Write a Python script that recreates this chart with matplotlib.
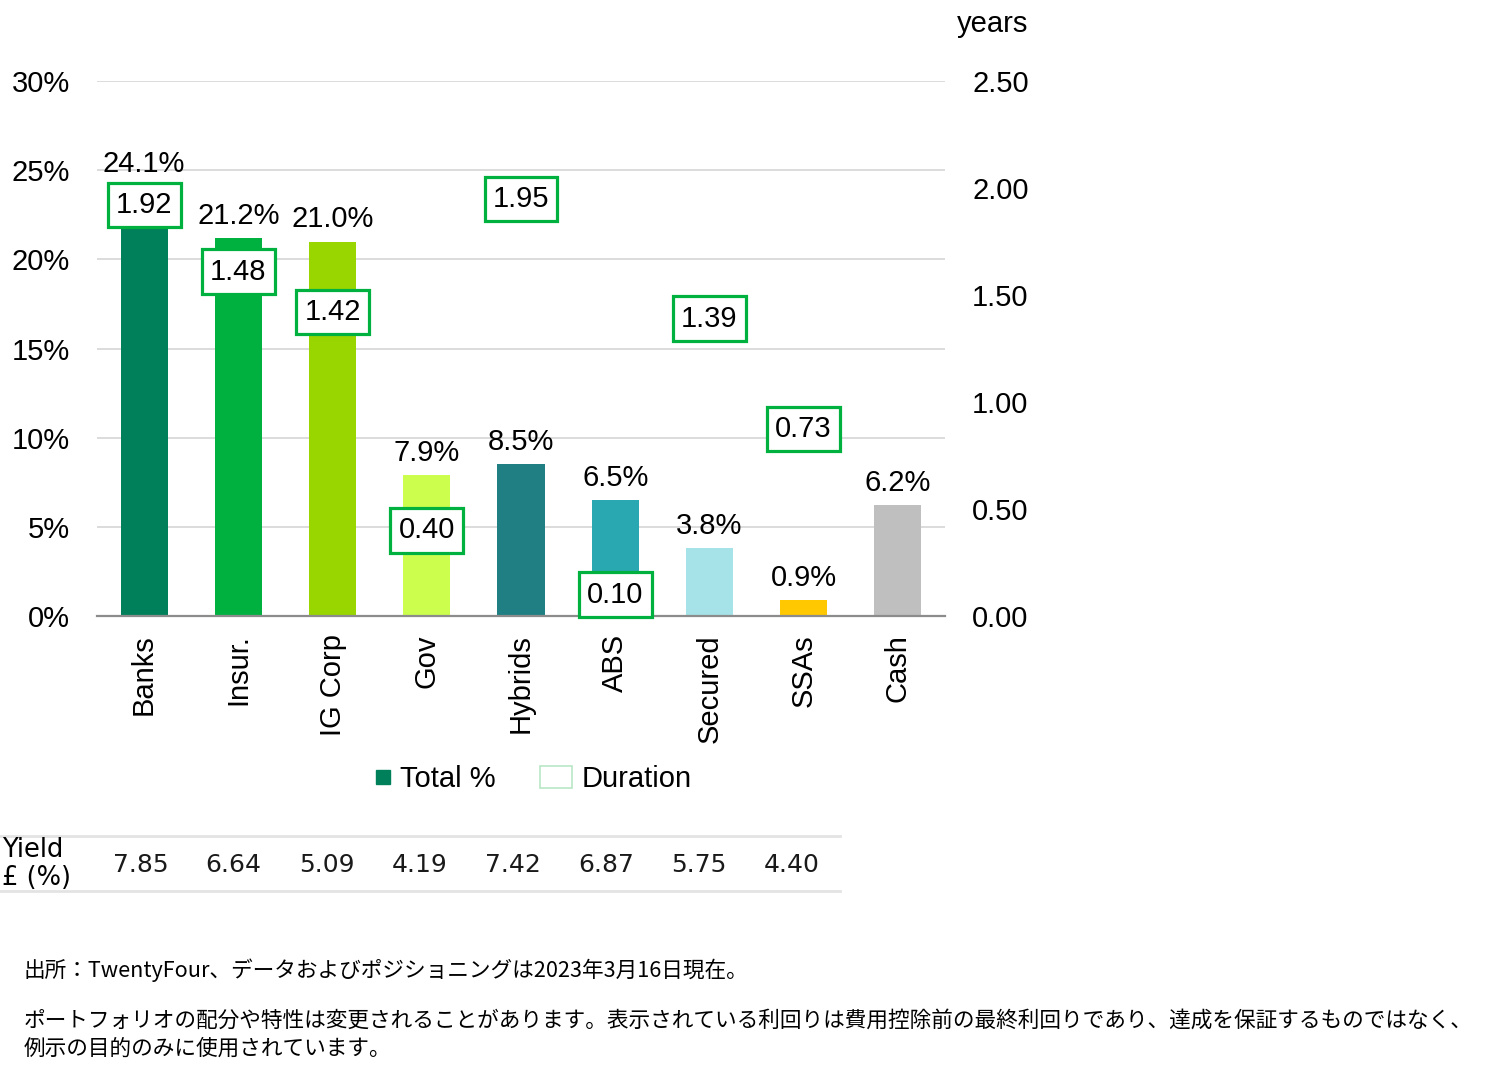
import matplotlib
matplotlib.use("Agg")
import matplotlib.pyplot as plt
import numpy as np
from matplotlib.patches import Patch, Rectangle
from matplotlib.legend_handler import HandlerPatch
from matplotlib.lines import Line2D
from matplotlib.transforms import blended_transform_factory

plt.rcParams['font.family'] = ['Liberation Sans', 'Noto Sans CJK JP', 'DejaVu Sans']

categories = ["Banks", "Insur.", "IG Corp", "Gov", "Hybrids", "ABS", "Secured", "SSAs", "Cash"]
total_pct = [24.1, 21.2, 21.0, 7.9, 8.5, 6.5, 3.8, 0.9, 6.2]
duration = [1.92, 1.48, 1.42, 0.40, 1.95, 0.10, 1.39, 0.73, np.nan]
yields = ["7.85", "6.64", "5.09", "4.19", "7.42", "6.87", "5.75", "4.40"]
bar_colors = ["#00805a", "#00b140", "#99d600", "#ccff4d", "#207f82", "#29a8b1", "#a5e3e8", "#ffc800", "#bfbfbf"]
left_ticks = [0, 5, 10, 15, 20, 25, 30]
right_ticks = [0.0, 0.5, 1.0, 1.5, 2.0, 2.5]
# label offsets (points) for duration boxes that were nudged in the original
dur_offsets = [0, 20, 0, 0, 0, 0, 0, 22, 0]

FS = 21
W, H = 1500, 1079
fig = plt.figure(figsize=(W / 100, H / 100), dpi=100)
ax = fig.add_axes([97 / W, 1 - 616 / H, (945 - 97) / W, (616 - 81) / H])
ax2 = ax.twinx()

x = np.arange(len(categories))
ax.bar(x, total_pct, width=0.5, color=bar_colors, zorder=2)
ax.set_xlim(-0.5, len(categories) - 0.5)
ax.set_ylim(0, 30)
ax.set_yticks(left_ticks)
ax.set_yticklabels([f"{t}%" for t in left_ticks])
ax.grid(axis='y', color='#d9d9d9', lw=1.3, zorder=0)
ax.set_axisbelow(True)
ax.set_xticks(x)
ax.set_xticklabels(categories, rotation=90, fontsize=FS)
ax.tick_params(axis='x', length=0, pad=13)
ax.tick_params(axis='y', length=0, pad=19.5, labelsize=FS)
for s in ['top', 'right', 'left']:
    ax.spines[s].set_visible(False)
ax.spines['bottom'].set_color('#8c8c8c')
ax.spines['bottom'].set_linewidth(1.6)
ax.spines['bottom'].set_zorder(3)

for xi, v in zip(x, total_pct):
    ax.annotate(f"{v:.1f}%", (xi, v), xytext=(0, 6), textcoords='offset points',
                ha='center', va='bottom', fontsize=FS, zorder=4)

ax2.set_ylim(0, 2.5)
ax2.set_yticks(right_ticks)
ax2.set_yticklabels([f"{t:.2f}" for t in right_ticks])
ax2.tick_params(axis='y', length=0, pad=19.5, labelsize=FS)
for s in ['top', 'right', 'left', 'bottom']:
    ax2.spines[s].set_visible(False)
ax2.plot(x, duration, linestyle='none', marker='none')
for xi, d, off in zip(x, duration, dur_offsets):
    if np.isnan(d):
        continue
    ax2.annotate(f"{d:.2f}", (xi, d), xytext=(0, off), textcoords='offset points',
                 ha='center', va='center', fontsize=FS, zorder=5,
                 bbox=dict(boxstyle='square,pad=0.28', fc='white', ec='#00b140', lw=2.3))

fig.text(993 / W, 1 - 24 / H, "years", ha='center', va='center', fontsize=FS)


def small_square(legend, orig_handle, xdescent, ydescent, width, height, fontsize):
    s = height * 0.62
    return Rectangle((-xdescent + width - s, -ydescent + (height - s) / 2), s, s)


handles = [Patch(facecolor='#00805a', edgecolor='#00805a'),
           Patch(facecolor='white', edgecolor='#b9e8c6', lw=1.2)]
fig.legend(handles, ["Total %", "Duration"], loc='center', bbox_to_anchor=(525 / W, 1 - 779 / H),
           ncol=2, frameon=False, fontsize=FS, handlelength=1.1, handletextpad=0.35,
           columnspacing=1.5, handleheight=0.8,
           handler_map={handles[0]: HandlerPatch(patch_func=small_square)})

# Yield table
for yy in [836, 891]:
    fig.add_artist(Line2D([0, 840 / W], [1 - yy / H, 1 - yy / H], color='#e3e3e3', lw=2))
fig.text(2 / W, 1 - 850 / H, "Yield", ha='left', va='center', fontsize=18.5, family='DejaVu Sans')
fig.text(2 / W, 1 - 878 / H, "£ (%)", ha='left', va='center', fontsize=18.5, family='DejaVu Sans')
tr = blended_transform_factory(ax.transData, fig.transFigure)
for i, yv in enumerate(yields):
    ax.text(i - 0.04 - 0.012 * i, 1 - 865 / H, yv, transform=tr, ha='center', va='center',
            fontsize=18, family='DejaVu Sans', color='#1a1a1a')

JP = ['Noto Sans CJK JP', 'DejaVu Sans']
fig.text(24 / W, 1 - 970 / H, "出所：TwentyFour、データおよびポジショニングは2023年3月16日現在。",
         ha='left', va='center', fontsize=15.6, family=JP)
fig.text(24 / W, 1 - 1021 / H,
         "ポートフォリオの配分や特性は変更されることがあります。表示されている利回りは費用控除前の最終利回りであり、達成を保証するものではなく、",
         ha='left', va='center', fontsize=15.6, family=JP)
fig.text(24 / W, 1 - 1049 / H, "例示の目的のみに使用されています。",
         ha='left', va='center', fontsize=15.6, family=JP)

fig.savefig("out.png", dpi=100, facecolor='white')
